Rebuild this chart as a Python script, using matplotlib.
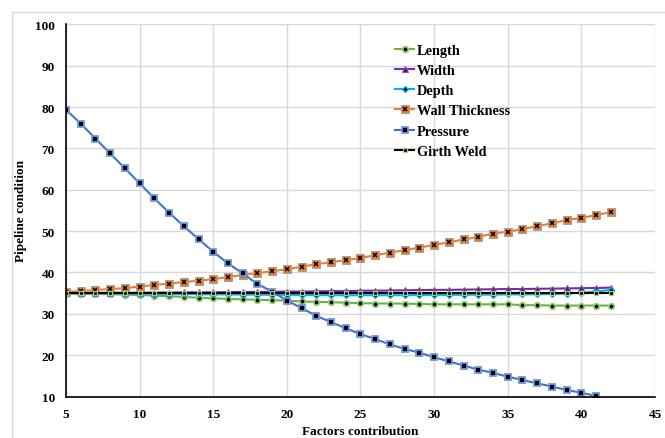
import matplotlib.pyplot as plt
from matplotlib.legend_handler import HandlerTuple
from matplotlib.patches import Rectangle

# data
x_all = list(range(5, 43))
x_pressure = list(range(5, 42))

length = [34.9, 34.85, 34.8, 34.75, 34.65, 34.55, 34.4, 34.25, 34.1, 33.9,
          33.75, 33.6, 33.5, 33.4, 33.3, 33.2, 33.0, 32.9, 32.8, 32.7,
          32.6, 32.5, 32.5, 32.45, 32.4, 32.3, 32.3, 32.3, 32.3, 32.3,
          32.3, 32.1, 32.1, 32.0, 32.0, 32.0, 32.0, 32.0]
width = [35.0, 35.05, 35.05, 35.1, 35.1, 35.1, 35.15, 35.15, 35.2, 35.2,
         35.2, 35.25, 35.3, 35.3, 35.35, 35.4, 35.4, 35.45, 35.5, 35.5,
         35.6, 35.6, 35.65, 35.7, 35.75, 35.8, 35.8, 35.85, 35.9, 35.95,
         36.0, 36.0, 36.05, 36.1, 36.15, 36.2, 36.25, 36.35]
depth = [35.0, 35.0, 34.95, 34.95, 34.9, 34.9, 34.85, 34.8, 34.8, 34.75,
         34.7, 34.7, 34.65, 34.65, 34.6, 34.6, 34.55, 34.55, 34.5, 34.5,
         34.5, 34.5, 34.5, 34.5, 34.55, 34.6, 34.6, 34.6, 34.65, 34.65,
         34.7, 34.7, 34.75, 34.8, 34.9, 35.1, 35.4, 35.8]
wall_thickness = [35.3, 35.5, 35.75, 36.0, 36.2, 36.6, 37.0, 37.3, 37.7, 38.0,
                  38.4, 38.9, 39.4, 39.85, 40.3, 40.8, 41.4, 42.0, 42.5, 43.0,
                  43.5, 44.2, 44.8, 45.4, 46.0, 46.7, 47.3, 48.0, 48.6, 49.4,
                  49.9, 50.5, 51.2, 51.9, 52.7, 53.2, 53.9, 54.6]
pressure = [79.4, 76.0, 72.4, 68.8, 65.2, 61.6, 57.9, 54.5, 51.2, 48.1,
            45.0, 42.2, 39.8, 37.2, 35.4, 33.2, 31.4, 29.5, 28.0, 26.5,
            25.1, 23.9, 22.6, 21.5, 20.6, 19.5, 18.5, 17.5, 16.5, 15.7,
            14.8, 14.0, 13.2, 12.4, 11.6, 10.9, 10.15]
girth_weld = [35.0] * 38

plt.rcParams['font.family'] = ['Liberation Serif', 'DejaVu Serif']
plt.rcParams['font.weight'] = 'bold'

fig = plt.figure(figsize=(6.65, 4.39), dpi=100)
ax = fig.add_axes([0.0992, 0.0945, 0.8858, 0.8475])

fig.patches.append(Rectangle((0.018, -0.01), 1.0, 0.98, transform=fig.transFigure,
                             fill=False, edgecolor='#d9d9d9', linewidth=1.0))

lw = 1.5
h_len, = ax.plot(x_all, length, color='#70AD47', lw=lw, marker='o', ms=4,
                 mfc='black', mec='#8fd16a', mew=1.3, label='Length')
h_wid, = ax.plot(x_all, width, color='#7030A0', lw=lw, marker='^', ms=4.5,
                 mfc='#3d1a5c', mec='#8a50c0', mew=0.8, label='Width')
h_dep, = ax.plot(x_all, depth, color='#00B0F0', lw=lw, marker='D', ms=3,
                 mfc='black', mec='#00B0F0', mew=1.0, label='Depth')
h_wall, = ax.plot(x_all, wall_thickness, color='#ED7D31', lw=lw, marker='s', ms=5.5,
                  mfc='#ED7D31', mec='#a0a0a0', mew=0.7, label='Wall Thickness')
h_wallx, = ax.plot(x_all, wall_thickness, ls='none', marker='x', ms=3.4,
                   mec='black', mew=1.1)
h_pre, = ax.plot(x_pressure, pressure, color='#4472C4', lw=lw, marker='s', ms=4.5,
                 mfc='black', mec='#6a98e0', mew=1.3, label='Pressure')
h_gw, = ax.plot(x_all, girth_weld, color='black', lw=lw, marker='s', ms=3.5,
                mfc='black', mec='#a9d18e', mew=0.9, label='Girth Weld')

ax.set_xlim(5, 45)
ax.set_ylim(10, 100)
ax.set_xticks(range(5, 46, 5))
ax.set_yticks(range(10, 101, 10))
ax.grid(True, color='#d9d9d9', linewidth=1.0)
ax.set_axisbelow(True)
ax.tick_params(length=0, labelsize=9.5, pad=8)
for lab in ax.get_xticklabels() + ax.get_yticklabels():
    lab.set_fontweight('bold')
for s in ['top', 'right']:
    ax.spines[s].set_visible(False)
for s in ['left', 'bottom']:
    ax.spines[s].set_color('black')
    ax.spines[s].set_linewidth(1.2)

ax.set_xlabel('Factors contribution', fontsize=9.5, fontweight='bold', labelpad=4)
ax.set_ylabel('Pipeline condition', fontsize=9.5, fontweight='bold', labelpad=6)

ax.legend([h_len, h_wid, h_dep, (h_wall, h_wallx), h_pre, h_gw],
          ['Length', 'Width', 'Depth', 'Wall Thickness', 'Pressure', 'Girth Weld'],
          handler_map={tuple: HandlerTuple(ndivide=1)},
          loc='upper left', bbox_to_anchor=(0.575, 0.927), bbox_transform=fig.transFigure,
          frameon=False, handlelength=1.3, handletextpad=0.2,
          labelspacing=0.5, prop={'weight': 'bold', 'size': 10.3})

fig.savefig('out.png', dpi=100)
